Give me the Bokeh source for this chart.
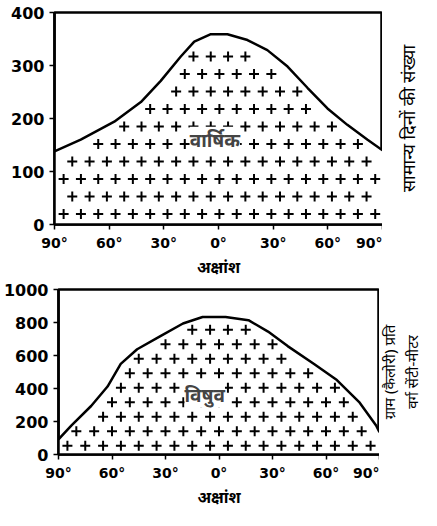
import numpy as np
from bokeh.plotting import figure
from bokeh.layouts import column, row
from bokeh.models import FixedTicker, Label, LinearAxis
from bokeh.embed import file_html
from bokeh.resources import INLINE

lat_ticks = [-90, -60, -30, 0, 30, 60, 90]
lat_tick_labels = ["90°", "60°", "30°", "0°", "30°", "60°", "90°"]

annual_lat = [-90, -75.6, -57.2, -42.6, -31.7, -20.7, -13.3, -4.2, 4.9, 15.9, 26.8, 37.9, 48.8, 59.8, 70.7, 81.8, 90]
annual_days = [138, 160, 194, 231, 271, 317, 345, 359, 359, 348, 329, 298, 258, 219, 188, 160, 140]
annual_ticks = [0, 100, 200, 300, 400]

equinox_lat = [-90, -82.7, -71.7, -62.5, -55.1, -45.9, -33.1, -20.2, -9.2, 3.7, 16.5, 27.5, 38.5, 53.3, 66.1, 78.9, 88.1, 90]
equinox_cal = [92, 176, 294, 412, 549, 638, 716, 794, 833, 833, 814, 745, 657, 549, 451, 314, 176, 135]
equinox_ticks = [0, 200, 400, 600, 800, 1000]

FONT = "DejaVu Sans"
HFONT = "Noto Sans"


def crosses(lats, vals, dx, dy, ymax):
    xs, ys = [], []
    j = 0
    y = dy * 0.6
    while y < ymax:
        off = (dx / 2.0) if j % 2 else 0.0
        x = -85 + off
        while x < 87:
            if y < np.interp(x, lats, vals) - dy * 0.6:
                xs.append(x)
                ys.append(y)
            x += dx
        y += dy
        j += 1
    return xs, ys


def base(width, height, yr, yticks, top, bottom, xlabel):
    p = figure(width=width, height=height, x_range=(-90, 90), y_range=yr,
               output_backend="svg", toolbar_location=None,
               min_border_left=54, min_border_right=0,
               min_border_top=top, min_border_bottom=bottom)
    p.grid.visible = False
    p.outline_line_color = "black"
    p.outline_line_width = 2.5
    p.xaxis.ticker = FixedTicker(ticks=lat_ticks)
    p.xaxis.major_label_overrides = dict(zip(lat_ticks, lat_tick_labels))
    p.yaxis.ticker = FixedTicker(ticks=yticks)
    for ax in (p.xaxis, p.yaxis):
        ax.axis_line_color = "black"
        ax.axis_line_width = 2.5
        ax.major_tick_line_color = "black"
        ax.major_tick_line_width = 1.5
        ax.major_tick_out = 5
        ax.major_tick_in = 0
        ax.minor_tick_line_color = None
        ax.major_label_text_font = FONT
        ax.major_label_text_font_style = "bold"
        ax.major_label_text_color = "black"
    p.xaxis.major_label_text_font_size = "14px"
    p.yaxis.major_label_text_font_size = "16px"
    p.xaxis.axis_label = xlabel
    p.xaxis.axis_label_text_font = HFONT
    p.xaxis.axis_label_text_font_style = "bold"
    p.xaxis.axis_label_text_font_size = "16px"
    p.xaxis.axis_label_text_color = "black"
    p.xaxis.axis_label_standoff = 2
    return p


def style_label_axis(ax, text, size):
    ax.ticker = FixedTicker(ticks=[])
    ax.axis_line_color = None
    ax.major_tick_line_color = None
    ax.major_tick_out = 0
    ax.major_tick_in = 0
    ax.major_label_standoff = 0
    ax.minor_tick_line_color = None
    ax.major_label_text_font_size = "0px"
    ax.axis_label = text
    ax.axis_label_text_font = HFONT
    ax.axis_label_text_font_style = "normal"
    ax.axis_label_text_font_size = size
    ax.axis_label_text_color = "black"
    ax.axis_label_standoff = 0


def side(width, height, top, bottom, texts, size, left):
    s = figure(width=width, height=height, x_range=(0, 1), y_range=(0, 1),
               output_backend="svg", toolbar_location=None,
               min_border_left=left, min_border_right=0,
               min_border_top=top, min_border_bottom=bottom)
    s.outline_line_color = None
    s.grid.visible = False
    s.xaxis.visible = False
    style_label_axis(s.yaxis[0], texts[-1], size)
    for t in reversed(texts[:-1]):
        extra = LinearAxis()
        style_label_axis(extra, t, size)
        s.add_layout(extra, "left")
    return s


xlabel = "अक्षांश"

p1 = base(382, 280, (0, 400), annual_ticks, 12, 55, xlabel)
p1.varea(x=annual_lat, y1=0, y2=annual_days, fill_color="white")
p1.line(annual_lat, annual_days, line_width=2.5, color="black")
cx, cy = crosses(annual_lat, annual_days, 9.5, 33, 400)
p1.scatter(cx, cy, marker="cross", size=10, line_width=2, color="black")
p1.add_layout(Label(x=-2, y=160, text="वार्षिक", text_font=HFONT, text_font_size="19px",
                    text_font_style="bold", text_align="center", text_baseline="middle",
                    background_fill_color="white"))
s1 = side(39, 280, 12, 48, ["सामान्य दिनों की संख्या"], "18px", 37)

p2 = base(379, 230, (0, 1000), equinox_ticks, 9, 48, xlabel)
p2.varea(x=equinox_lat, y1=0, y2=equinox_cal, fill_color="white")
p2.line(equinox_lat, equinox_cal, line_width=2.5, color="black")
cx2, cy2 = crosses(equinox_lat, equinox_cal, 10, 88, 1000)
p2.scatter(cx2, cy2, marker="cross", size=10, line_width=2, color="black")
p2.add_layout(Label(x=-8, y=363, text="विषुव", text_font=HFONT, text_font_size="19px",
                    text_font_style="bold", text_align="center", text_baseline="middle",
                    background_fill_color="white"))
s2 = side(42, 230, 9, 8, ["ग्राम (कैलोरी) प्रति", "वर्ग सेंटी-मीटर"], "15px", 41)

layout = column(row(p1, s1, spacing=0), row(p2, s2, spacing=0), spacing=0)
open("out.html", "w").write(file_html(layout, INLINE))
